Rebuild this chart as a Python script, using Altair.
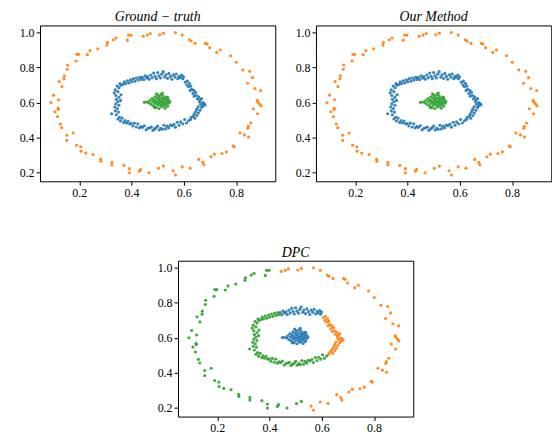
import altair as alt
import pandas as pd

# ---- data: (x, y) pairs per ring segment ----
core = [(0.458, 0.603), (0.466, 0.598), (0.470, 0.611), (0.475, 0.589), (0.478, 0.623), (0.481, 0.604),
        (0.484, 0.581), (0.486, 0.616), (0.489, 0.633), (0.490, 0.594), (0.492, 0.609), (0.494, 0.572),
        (0.497, 0.627), (0.498, 0.601), (0.500, 0.586), (0.502, 0.641), (0.503, 0.617), (0.505, 0.566),
        (0.506, 0.598), (0.508, 0.629), (0.509, 0.611), (0.511, 0.584), (0.513, 0.646), (0.514, 0.603),
        (0.516, 0.575), (0.517, 0.622), (0.519, 0.593), (0.521, 0.637), (0.522, 0.609), (0.524, 0.581),
        (0.526, 0.624), (0.527, 0.598), (0.529, 0.567), (0.531, 0.614), (0.532, 0.588), (0.534, 0.631),
        (0.536, 0.602), (0.538, 0.579), (0.541, 0.616), (0.543, 0.596), (0.488, 0.571), (0.518, 0.654),
        (0.496, 0.649), (0.539, 0.628), (0.547, 0.605), (0.449, 0.601)]

mid_top = [(0.441, 0.744), (0.447, 0.731), (0.452, 0.752), (0.458, 0.740), (0.463, 0.748), (0.468, 0.733),
           (0.474, 0.757), (0.479, 0.741), (0.485, 0.768), (0.490, 0.750), (0.495, 0.736), (0.500, 0.771),
           (0.505, 0.752), (0.511, 0.740), (0.516, 0.762), (0.521, 0.776), (0.527, 0.745), (0.532, 0.758),
           (0.538, 0.738), (0.543, 0.766), (0.549, 0.749), (0.554, 0.733), (0.560, 0.758), (0.566, 0.745),
           (0.571, 0.763), (0.577, 0.736), (0.582, 0.750), (0.587, 0.741), (0.592, 0.756), (0.596, 0.735),
           (0.599, 0.747)]

mid_right = [(0.606, 0.716), (0.614, 0.722), (0.612, 0.700), (0.622, 0.708), (0.618, 0.690), (0.627, 0.694),
             (0.630, 0.676), (0.624, 0.668), (0.638, 0.670), (0.635, 0.652), (0.645, 0.658), (0.648, 0.640),
             (0.640, 0.636), (0.657, 0.632), (0.652, 0.620), (0.662, 0.615), (0.668, 0.622), (0.660, 0.604),
             (0.672, 0.600), (0.678, 0.594), (0.681, 0.586), (0.673, 0.582), (0.664, 0.590), (0.668, 0.572),
             (0.655, 0.576), (0.650, 0.562), (0.662, 0.556), (0.646, 0.548), (0.656, 0.540), (0.640, 0.535),
             (0.650, 0.526), (0.636, 0.522), (0.628, 0.514), (0.642, 0.510), (0.625, 0.503)]

mid_rest = [(0.618, 0.496), (0.610, 0.483), (0.603, 0.503), (0.596, 0.478), (0.588, 0.489), (0.582, 0.470),
            (0.575, 0.487), (0.568, 0.459), (0.562, 0.476), (0.555, 0.468), (0.548, 0.471), (0.542, 0.455),
            (0.536, 0.465), (0.530, 0.449), (0.524, 0.470), (0.518, 0.447), (0.512, 0.452), (0.506, 0.443),
            (0.500, 0.465), (0.494, 0.455), (0.488, 0.449), (0.482, 0.441), (0.476, 0.460), (0.470, 0.456),
            (0.463, 0.453), (0.456, 0.444), (0.449, 0.467), (0.442, 0.458), (0.436, 0.463), (0.430, 0.455),
            (0.424, 0.478), (0.418, 0.460), (0.411, 0.482), (0.405, 0.466), (0.399, 0.480), (0.393, 0.478),
            (0.387, 0.494), (0.381, 0.483), (0.375, 0.497), (0.370, 0.486), (0.364, 0.511), (0.358, 0.495),
            (0.354, 0.516), (0.348, 0.506), (0.324, 0.536), (0.342, 0.530), (0.350, 0.546), (0.338, 0.552),
            (0.346, 0.566), (0.336, 0.574), (0.352, 0.584), (0.340, 0.592), (0.348, 0.604), (0.358, 0.612),
            (0.342, 0.618), (0.352, 0.630), (0.340, 0.640), (0.360, 0.644), (0.334, 0.655), (0.348, 0.662),
            (0.338, 0.672), (0.352, 0.684), (0.345, 0.694), (0.360, 0.698), (0.356, 0.708), (0.368, 0.704),
            (0.372, 0.718), (0.378, 0.708), (0.384, 0.724), (0.390, 0.712), (0.396, 0.730), (0.401, 0.718),
            (0.407, 0.736), (0.413, 0.722), (0.419, 0.740), (0.425, 0.728), (0.431, 0.744), (0.436, 0.732)]

outer_right = [(0.445, 0.979), (0.460, 0.985), (0.472, 0.994), (0.508, 0.987), (0.522, 0.996), (0.568, 1.000),
               (0.594, 0.985), (0.621, 0.958), (0.628, 0.951), (0.643, 0.938), (0.683, 0.938), (0.689, 0.934),
               (0.699, 0.913), (0.726, 0.886), (0.740, 0.900), (0.779, 0.867), (0.801, 0.830), (0.826, 0.786),
               (0.852, 0.778), (0.863, 0.742), (0.844, 0.710), (0.872, 0.680), (0.894, 0.668), (0.881, 0.612),
               (0.884, 0.602), (0.890, 0.591), (0.895, 0.581), (0.866, 0.564), (0.882, 0.536), (0.856, 0.483),
               (0.847, 0.464), (0.845, 0.453), (0.815, 0.426), (0.832, 0.415), (0.848, 0.403), (0.789, 0.352),
               (0.793, 0.347), (0.763, 0.318), (0.746, 0.309), (0.717, 0.305), (0.704, 0.290), (0.673, 0.258),
               (0.677, 0.244), (0.657, 0.275), (0.624, 0.225), (0.594, 0.233), (0.559, 0.210), (0.568, 0.186)]

outer_left = [(0.522, 0.237), (0.503, 0.224), (0.467, 0.199), (0.435, 0.218), (0.430, 0.208), (0.392, 0.222),
              (0.392, 0.199), (0.371, 0.241), (0.325, 0.259), (0.325, 0.244), (0.282, 0.277), (0.283, 0.265),
              (0.253, 0.303), (0.225, 0.311), (0.207, 0.322), (0.206, 0.347), (0.190, 0.356), (0.177, 0.426),
              (0.152, 0.413), (0.152, 0.384), (0.133, 0.456), (0.128, 0.477), (0.117, 0.519), (0.107, 0.547),
              (0.120, 0.561), (0.119, 0.568), (0.092, 0.600), (0.121, 0.616), (0.102, 0.642), (0.134, 0.691),
              (0.123, 0.720), (0.142, 0.735), (0.143, 0.752), (0.154, 0.790), (0.156, 0.814), (0.188, 0.837),
              (0.191, 0.875), (0.198, 0.875), (0.231, 0.873), (0.241, 0.896), (0.271, 0.907), (0.306, 0.928),
              (0.308, 0.943), (0.330, 0.958), (0.341, 0.968), (0.384, 0.956), (0.389, 0.985), (0.398, 0.985)]

# segment -> (ground-truth cluster, DPC cluster)
segments = [
    (outer_right, "orange", "orange"),
    (outer_left, "orange", "green"),
    (mid_top, "blue", "blue"),
    (mid_right, "blue", "orange"),
    (mid_rest, "blue", "green"),
    (core, "green", "blue"),
]

rows = []
for pts, gt, dpc in segments:
    for x, y in pts:
        rows.append({"x": x, "y": y, "truth": gt, "ours": gt, "dpc": dpc})
df = pd.DataFrame(rows)

x_ticks = [0.2, 0.4, 0.6, 0.8]
y_ticks = [0.2, 0.4, 0.6, 0.8, 1.0]
color_scale = alt.Scale(domain=["blue", "orange", "green"],
                        range=["#1f77b4", "#ff7f0e", "#2ca02c"])


def panel(title, col):
    return alt.Chart(
        df,
        title=alt.Title(title, font="Liberation Serif", fontStyle="italic",
                        fontWeight="normal", fontSize=14, offset=1),
    ).mark_circle(size=10, opacity=0.9).encode(
        x=alt.X("x:Q", scale=alt.Scale(domain=[0.05, 0.95], nice=False, zero=False),
                axis=alt.Axis(values=x_ticks, format=".1f", title=None)),
        y=alt.Y("y:Q", scale=alt.Scale(domain=[0.15, 1.04], nice=False, zero=False),
                axis=alt.Axis(values=y_ticks, format=".1f", title=None)),
        color=alt.Color(f"{col}:N", scale=color_scale, legend=None),
    ).properties(width=237, height=157)


top = alt.hconcat(panel("Ground − truth", "truth"), panel("Our Method", "ours"), spacing=18)
chart = alt.vconcat(top, panel("DPC", "dpc"), spacing=46, center=True).properties(
    padding={"left": 10, "top": 0, "right": 0, "bottom": 0}
).configure_view(
    stroke="black", strokeWidth=1
).configure_axis(
    domain=False, grid=False, ticks=True, tickColor="black", tickSize=4,
    labelFont="Liberation Serif", labelFontSize=12, labelColor="black", labelPadding=2,
)

chart.save("out.html", embed_options={"renderer": "svg", "actions": False})
